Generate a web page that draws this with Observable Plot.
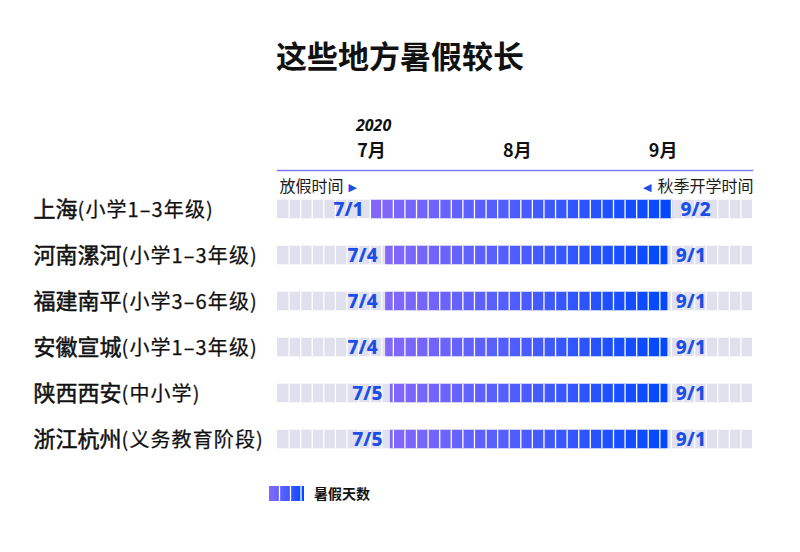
<!DOCTYPE html>
<html><head><meta charset="utf-8">
<script src="https://cdn.jsdelivr.net/npm/d3@7"></script>
<script src="https://cdn.jsdelivr.net/npm/@observablehq/plot@0.6"></script>
<style>
body{margin:0;background:#fff;font-family:"Noto Sans CJK SC","Noto Sans",sans-serif;color:#111}
#wrap{position:relative;width:800px;height:552px;overflow:hidden;background:#fff}
#title{position:absolute;left:0;width:800px;top:36px;text-align:center;font-size:31px;font-weight:700;line-height:38px;color:#111}
#chart{position:absolute;left:0;top:100px}
#legend{position:absolute;left:269px;top:484px;height:18px;display:flex;align-items:center;font-size:14px;font-weight:700;color:#111}
#legend svg{margin-right:10px}
</style></head>
<body><div id="wrap">
<div id="title">这些地方暑假较长</div>
<div id="chart"></div>
<div id="legend"></div>
</div>
<script>
// ---- data ----
const regions = ["上海","河南漯河","福建南平","安徽宣城","陕西西安","浙江杭州"];
const groups = ["小学1–3年级","小学1–3年级","小学3–6年级","小学1–3年级","中小学","义务教育阶段"];
const startLabels = ["7/1","7/4","7/4","7/4","7/5","7/5"];
const endLabels = ["9/2","9/1","9/1","9/1","9/1","9/1"];
const year = 2020;
const monthLabels = ["7月","8月","9月"];
const domainStart = "6/11";
const domainEnd = "9/20";
const cellCount = 41;
const legendLabel = "暑假天数";
const leftNote = "放假时间";
const rightNote = "秋季开学时间";

const md = s => { const [m,d] = s.split("/").map(Number); return new Date(Date.UTC(year, m-1, d)); };
const DAY = 864e5;
const rows = regions.map((r,i) => ({
  name: r + "(" + groups[i] + ")",
  start: md(startLabels[i]),
  end: new Date(+md(endLabels[i]) + DAY),
  startLabel: startLabels[i],
  endLabel: endLabels[i]
}));
const names = rows.map(d => d.name);
const x0 = md(domainStart), x1 = md(domainEnd);
const months = monthLabels.map(m => ({label: m, date: new Date(Date.UTC(year, parseInt(m)-1, 1))}));
const bounds = d3.range(1, cellCount).map(i => new Date(+x0 + i*(x1-x0)/cellCount));
const seps = rows.flatMap(r => bounds.map(b => ({name: r.name, b})));

const blue = "#1b4fe6";
const H = 372, mTop = 84.25, mBottom = 8.75;
const inset = 13.75;

const svg = Plot.plot({
  width: 800, height: H,
  marginLeft: 277, marginRight: 48, marginTop: mTop, marginBottom: mBottom,
  style: {fontFamily: '"Noto Sans CJK SC","Noto Sans",sans-serif', background: "transparent", overflow: "visible"},
  x: {type: "utc", domain: [x0, x1], axis: null},
  y: {type: "band", domain: names, padding: 0, axis: null},
  marks: [
    Plot.barX(rows, {y: "name", x1: () => x0, x2: () => x1, fill: "#e0e0ee", insetTop: inset, insetBottom: inset}),
    Plot.barX(rows, {y: "name", x1: "start", x2: "end", fill: "url(#barGrad)", insetTop: inset, insetBottom: inset}),
    Plot.tickX(seps, {x: "b", y: "name", stroke: "white", strokeWidth: 1.3, insetTop: inset, insetBottom: inset}),
    Plot.text(rows, {y: "name", x: "start", text: "startLabel", textAnchor: "end", dx: -8, fill: blue, fontSize: 19, fontWeight: 800, fontFamily: '"Noto Sans",sans-serif', lineAnchor: "middle"}),
    Plot.text(rows, {y: "name", x: "end", text: "endLabel", textAnchor: "start", dx: 8, fill: blue, fontSize: 19, fontWeight: 800, fontFamily: '"Noto Sans",sans-serif', lineAnchor: "middle"}),
    Plot.text(rows, {y: "name", text: "name", frameAnchor: "left", textAnchor: "start", dx: -244, fill: "#111", fontSize: 22, lineAnchor: "middle"}),
    // header
    Plot.text(months, {x: "date", text: "label", frameAnchor: "top", dy: -33.75, lineAnchor: "middle", fontSize: 18, fontWeight: 700, fill: "#111"}),
    Plot.text(months.slice(0,1), {x: "date", text: () => String(year), frameAnchor: "top", dy: -58.75, dx: 2, lineAnchor: "middle", fontSize: 16, fontWeight: 700, fill: "#111", fontFamily: '"Noto Sans",sans-serif', fontStyle: "italic"}),
    Plot.frame({anchor: "top", stroke: "#7b7bef", strokeWidth: 1.5, dy: -14.25}),
    Plot.text([leftNote], {text: d => d, frameAnchor: "top-left", dx: 2, dy: 2.5, lineAnchor: "middle", textAnchor: "start", fontSize: 16, fill: "#1a1a1a"}),
    Plot.text(["▶"], {text: d => d, frameAnchor: "top-left", dx: 71, dy: 2.5, lineAnchor: "middle", textAnchor: "start", fontSize: 11, fill: blue, fontFamily: "DejaVu Sans"}),
    Plot.text([rightNote], {text: d => d, frameAnchor: "top-right", dx: 1, dy: 2.5, lineAnchor: "middle", textAnchor: "end", fontSize: 16, fill: "#1a1a1a"}),
    Plot.text(["◀"], {text: d => d, frameAnchor: "top-right", dx: -101, dy: 2.5, lineAnchor: "middle", textAnchor: "end", fontSize: 11, fill: blue, fontFamily: "DejaVu Sans"})
  ]
});

const NS = "http://www.w3.org/2000/svg";
function makeGrad(id){
  const defs = document.createElementNS(NS, "defs");
  const g = document.createElementNS(NS, "linearGradient");
  g.setAttribute("id", id); g.setAttribute("x1","0"); g.setAttribute("x2","1"); g.setAttribute("y1","0"); g.setAttribute("y2","0");
  [["0","#8468fb"],["0.5","#4a5cff"],["1","#0048ff"]].forEach(([o,c]) => {
    const s = document.createElementNS(NS, "stop"); s.setAttribute("offset", o); s.setAttribute("stop-color", c); g.appendChild(s);
  });
  defs.appendChild(g); return defs;
}
svg.insertBefore(makeGrad("barGrad"), svg.firstChild);

const nameSet = new Set(names);
svg.querySelectorAll("text").forEach(t => {
  const s = t.textContent;
  if (!nameSet.has(s)) return;
  const i = s.indexOf("(");
  t.textContent = "";
  const a = document.createElementNS(NS, "tspan"); a.textContent = s.slice(0, i);
  a.setAttribute("font-size", "22"); a.setAttribute("font-weight", "400");
  a.setAttribute("stroke", "#111"); a.setAttribute("stroke-width", "0.5");
  const b = document.createElementNS(NS, "tspan"); b.textContent = s.slice(i);
  b.setAttribute("font-size", "20"); b.setAttribute("font-weight", "400"); b.setAttribute("letter-spacing", "1.1");
  b.setAttribute("stroke", "#111"); b.setAttribute("stroke-width", "0.25");
  t.appendChild(a); t.appendChild(b);
});
document.getElementById("chart").appendChild(svg);

// legend
const lg = document.getElementById("legend");
const sw = document.createElementNS(NS, "svg");
sw.setAttribute("width", "35"); sw.setAttribute("height", "15");
sw.appendChild(makeGrad("legGrad"));
const r = document.createElementNS(NS, "rect");
r.setAttribute("width", "35"); r.setAttribute("height", "15"); r.setAttribute("fill", "url(#legGrad)");
sw.appendChild(r);
[10.5, 21.5, 32].forEach(xp => {
  const l = document.createElementNS(NS, "line");
  l.setAttribute("x1", xp); l.setAttribute("x2", xp); l.setAttribute("y1", 0); l.setAttribute("y2", 15);
  l.setAttribute("stroke", "white"); l.setAttribute("stroke-width", "1.3"); sw.appendChild(l);
});
lg.appendChild(sw);
const sp = document.createElement("span"); sp.textContent = legendLabel; lg.appendChild(sp);
</script>
</body></html>
